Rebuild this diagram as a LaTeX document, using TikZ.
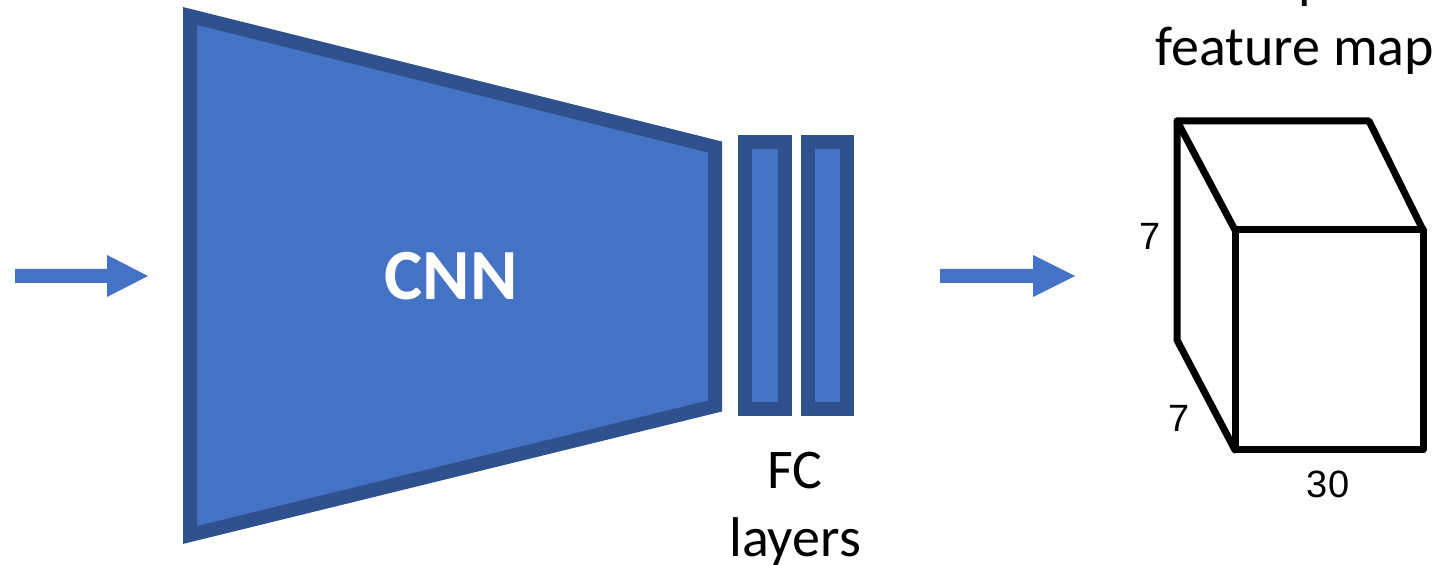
\documentclass[tikz,border=0pt]{standalone}
\usepackage{fontspec}
\setmainfont{Carlito}
\newfontfamily\arialf{Liberation Sans}
\definecolor{cnnfill}{HTML}{4472C4}
\definecolor{cnnedge}{HTML}{2F528F}
\begin{document}
\begin{tikzpicture}[x=0.5pt,y=-0.5pt,
  blockshape/.style={fill=cnnfill,draw=cnnedge,line width=7pt,line join=miter},
  flowarrow/.style={fill=cnnfill,draw=none},
  cubeedge/.style={draw=black,line width=3.5pt,line join=round,line cap=round},
  dimlabel/.style={font=\arialf\fontsize{19}{22}\selectfont,inner sep=0pt},
  caption/.style={font=\fontsize{28}{34}\selectfont,align=center,inner sep=0pt}]
\clip (0,0) rectangle (1454,565);
% input arrow
\fill[flowarrow] (15,269) -- (107,269) -- (107,255) -- (148,276) -- (107,297) -- (107,283) -- (15,283) -- cycle;
% CNN trapezoid
\draw[blockshape] (190,16) -- (715,147) -- (715,406) -- (190,535) -- cycle;
\node[font=\bfseries\fontsize{36}{42}\selectfont,text=white,anchor=base,inner sep=0pt] (cnn) at (451,300) {CNN};
% FC layers
\draw[blockshape] (745,142) rectangle (785,409);
\draw[blockshape] (808,142) rectangle (847,409);
\node[caption] (fc) at (795,509) {FC\\layers};
% output arrow
\fill[flowarrow] (940,269) -- (1033,269) -- (1033,255) -- (1075,276) -- (1033,297) -- (1033,283) -- (940,283) -- cycle;
% cube
\coordinate (btl) at (1177,121);
\coordinate (btr) at (1369,121);
\coordinate (ftl) at (1235,230);
\coordinate (ftr) at (1423,230);
\coordinate (fbl) at (1235,450);
\coordinate (fbr) at (1423,450);
\coordinate (bbl) at (1177,340);
\draw[cubeedge] (ftl) -- (btl) -- (btr) -- (ftr);
\draw[cubeedge] (ftl) rectangle (fbr);
\draw[cubeedge] (btl) -- (bbl) -- (fbl);
\node[dimlabel] (h) at (1150,236) {7};
\node[dimlabel] (d) at (1179,418) {7};
\node[dimlabel] (w) at (1328,484) {30};
\node[caption] (title) at (1295,18) {Output\\feature map};
\end{tikzpicture}
\end{document}
